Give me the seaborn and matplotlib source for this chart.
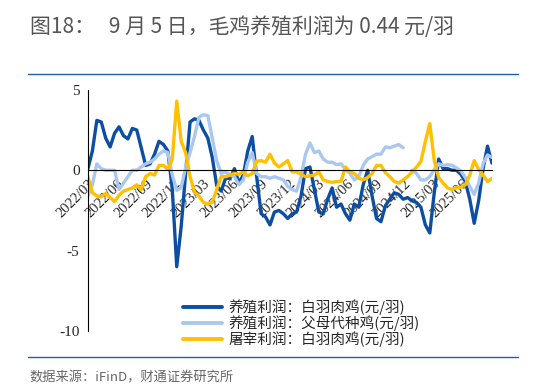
import seaborn as sns
import pandas as pd
import matplotlib.pyplot as plt
import numpy as np

# biweekly readings, 2022/03 -> 2025/09/05
broiler = [0.1, 1.2, 3.1, 3.0, 2.0, 1.45, 2.3, 2.7, 2.15, 1.95,
           2.6, 2.5, 1.4, 0.3, 0.4, 1.0, 1.8, 1.6, 1.2, -1.2,
           -6.0, -3.5, -0.2, 3.0, 3.2, 3.1, 2.5, 2.0, 0.8, -0.95,
           -1.3, -0.5, -0.5, 0.1, -0.8, -0.3, 1.2, 2.1, -0.4, -2.7,
           -2.9, -3.4, -2.6, -2.5, -2.7, -3.0, -2.7, -2.6, -1.6, 0.1,
           0.2, -1.2, -2.6, -2.7, -1.8, -1.1, -2.3, -2.1, -2.7, -3.1,
           -2.1, -2.3, -0.9, 0.0, -1.6, -3.0, -3.2, -2.2, -1.8, -1.4,
           -1.5, -1.8, -1.7, -1.9, -2.0, -2.3, -3.4, -3.9, -1.4, 0.7,
           0.1, 0.1, 0.0, 0.0, -0.25, -0.7, -1.8, -3.3, -1.9, 0.1,
           1.5, 0.44]
parent = [-1.6, -0.9, 0.4, 0.1, 0.0, 0.0, 0.0, -1.2, -0.8, -0.4,
          0.0, 0.0, 0.2, 0.4, 0.5, 0.7, 1.0, 1.2, 1.1, -0.3,
          -1.25, -1.1, 0.2, 1.1, 2.1, 3.3, 3.45, 3.4, 2.0, 0.6,
          -0.2, -0.1, -0.3, -0.4, -0.9, -0.6, 0.5, 1.1, -0.2, -0.4,
          -0.4, -0.5, -0.4, -0.5, -0.6, -1.0, -1.2, -1.3, -0.4, 1.0,
          1.7, 1.1, 1.2, 0.7, 0.5, 0.5, 0.35, 0.4, 0.05, -0.2,
          -0.6, -0.4, 0.3, 0.7, 0.85, 1.0, 1.0, 1.45, 1.4, 1.5,
          1.6, 1.4, np.nan, 0.0, -0.2, -0.6, -0.6, -0.4, 0.05, 0.4,
          0.3, 0.35, 0.3, 0.15, -0.05, -0.45, -1.0, -1.5, -0.8, 0.4,
          0.95, 0.8]
slaughter = [-0.4, -1.4, -1.6, -1.65, -1.45, -1.7, -1.95, -1.55, -1.3, -1.2,
             -1.1, -0.9, -1.2, -0.4, -0.2, -0.3, 0.3, 0.3, 0.05, 0.7,
             4.3, 1.8, 1.1, -0.4, -1.35, -1.6, -2.0, -2.1, -2.0, -1.2,
             -0.4, -0.4, -0.3, -0.2, -0.25, -0.1, -0.35, -0.2, 0.55, 0.6,
             0.5, 1.0, 0.45, 0.2, 0.4, 0.6, -0.1, -0.1, -0.25, -0.4,
             -0.35, -0.3, -0.1, -0.6, -0.7, -0.75, -0.7, -0.7, 0.2, -0.1,
             -0.2, -0.5, -0.6, -0.45, -0.2, 0.3, 0.3, -0.15, -0.4, -0.7,
             -0.8, -0.6, -0.4, -0.1, 0.2, 0.55, 1.8, 2.9, 0.6, -0.45,
             -0.8, -1.1, -1.2, -1.1, -1.05, -0.9, -0.3, 0.6, 0.05, -0.3,
             -0.7, -0.5]
tick_months = ['2022/03', '2022/06', '2022/09', '2022/12', '2023/03', '2023/06',
               '2023/09', '2023/12', '2024/03', '2024/06', '2024/09', '2024/12',
               '2025/03', '2025/06']
labels = ['养殖利润：白羽肉鸡(元/羽)', '养殖利润：父母代种鸡(元/羽)', '屠宰利润：白羽肉鸡(元/羽)']
colors = ['#0B4EA2', '#A9C8F0', '#FFC000']

dates = pd.date_range('2022-03-01', '2025-09-05', periods=len(broiler))
df = pd.DataFrame({'date': dates, 'broiler': broiler, 'parent': parent, 'slaughter': slaughter})

sns.set_style('white')
plt.rcParams['font.family'] = ['Noto Sans CJK SC', 'DejaVu Sans']

fig = plt.figure(figsize=(5.33, 3.89), dpi=100)
ax = fig.add_axes([0.165, 0.149, 0.758, 0.62])

sns.lineplot(data=df, x='date', y='broiler', ax=ax, color=colors[0], lw=2.4, label=labels[0])
gap = df['parent'].isna().idxmax()
sns.lineplot(data=df.iloc[:gap], x='date', y='parent', ax=ax, color=colors[1], lw=2.4, label=labels[1])
sns.lineplot(data=df.iloc[gap + 1:], x='date', y='parent', ax=ax, color=colors[1], lw=2.4)
sns.lineplot(data=df, x='date', y='slaughter', ax=ax, color=colors[2], lw=2.4, label=labels[2])

ax.set_xlabel('')
ax.set_ylabel('')
for s in ['top', 'right']:
    ax.spines[s].set_visible(False)
ax.spines['bottom'].set_position(('data', 0))
ax.spines['bottom'].set_color('black')
ax.spines['left'].set_color('black')
ax.grid(False)

ax.set_xlim(dates[0], dates[-1])
ax.set_ylim(-10, 5)
ax.set_yticks([5, 0, -5, -10])
ax.set_yticklabels(['5', '0', '-5', '-10'], family='Liberation Serif', fontsize=11)
ax.set_xticks([pd.Timestamp(m.replace('/', '-') + '-01') for m in tick_months])
ax.set_xticklabels(tick_months, rotation=45, ha='right', va='top', rotation_mode='anchor',
                   family='Liberation Serif', fontsize=10.5)
ax.tick_params(axis='x', direction='out', length=3, width=0.8, pad=2)
ax.tick_params(axis='y', direction='out', length=3, width=0.8, pad=3)

leg = ax.legend(loc='upper left', bbox_to_anchor=(0.22, 0.155), frameon=False, fontsize=10.5,
                handlelength=2.7, handletextpad=0.45, labelspacing=0.0, borderaxespad=0)
for h in leg.get_lines():
    h.set_linewidth(2.8)

fig.text(0.056, 0.93, '图18：   9 月 5 日，毛鸡养殖利润为 0.44 元/羽', fontsize=15,
         color='#555555', va='center', ha='left')
fig.add_artist(plt.Line2D([0.053, 0.972], [1 - 74 / 389] * 2, color='#1F5FAF', lw=1))
fig.add_artist(plt.Line2D([0.053, 0.972], [1 - 357 / 389] * 2, color='#1F5FAF', lw=1))
fig.text(0.056, 1 - 378 / 389, '数据来源：iFinD，财通证券研究所', fontsize=9.5,
         color='#666666', va='center', ha='left')

fig.savefig('out.png', dpi=100)
